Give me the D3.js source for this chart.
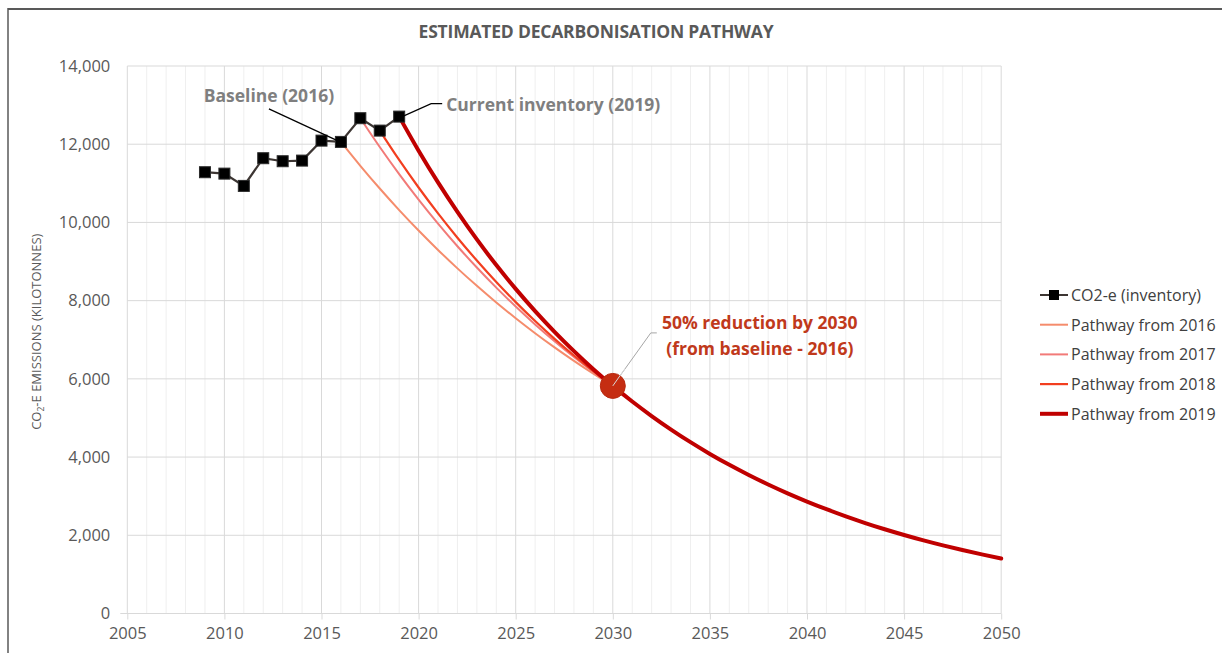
<!DOCTYPE html>
<html>
<head>
<meta charset="utf-8">
<script src="https://cdn.jsdelivr.net/npm/d3@7"></script>
<style>
  body { margin: 0; background: #fff; }
  svg { display: block; font-family: "Open Sans", "Noto Sans", sans-serif; }
</style>
</head>
<body>
<svg id="chart" width="1222" height="653"></svg>
<script>
// Emissions inventory (kilotonnes CO2-e)
const inventoryYears = [2009, 2010, 2011, 2012, 2013, 2014, 2015, 2016, 2017, 2018, 2019];
const inventoryValues = [11284, 11248, 10934, 11642, 11565, 11581, 12092, 12059, 12665, 12348, 12706];

// Projected pathways, one value per year from the start year onward
const pathway2016 = [12059, 11448, 10867, 10316, 9793, 9297, 8825, 8378, 7953, 7550, 7167, 6804, 6459, 6131, 5820];
const pathway2017 = [12665, 11930, 11237, 10585, 9970, 9391, 8846, 8332, 7849, 7393, 6964, 6559, 6179, 5820];
const pathway2018 = [12348, 11598, 10893, 10231, 9610, 9026, 8477, 7962, 7478, 7024, 6597, 6196, 5820];
const pathway2019 = [12706, 11835, 11024, 10269, 9565, 8910, 8300, 7731, 7201, 6708, 6248, 5820,
                     5421, 5050, 4704, 4381, 4081, 3801, 3541, 3298, 3072, 2862,
                     2666, 2483, 2313, 2154, 2007, 1869, 1741, 1622, 1511, 1407];
const pathwayStarts = [2016, 2017, 2018, 2019];
const pathwayNames = ["Pathway from 2016", "Pathway from 2017", "Pathway from 2018", "Pathway from 2019"];

// 2030 target (50% of the 2016 baseline)
const targetYear = 2030;
const targetValue = 5820;

const xTickValues = [2005, 2010, 2015, 2020, 2025, 2030, 2035, 2040, 2045, 2050];
const yTickValues = [0, 2000, 4000, 6000, 8000, 10000, 12000, 14000];

const svg = d3.select("#chart");
const W = 1222, H = 653;
const plot = { left: 127.3, right: 1001.2, top: 66, bottom: 613.5 };

const x = d3.scaleLinear().domain([2005, 2050]).range([plot.left, plot.right]);
const y = d3.scaleLinear().domain([0, 14000]).range([plot.bottom, plot.top]);

// Chart frame
svg.append("line").attr("x1", 8).attr("x2", W).attr("y1", 9).attr("y2", 9)
  .attr("stroke", "#595959").attr("stroke-width", 2);
svg.append("line").attr("x1", 8).attr("x2", 8).attr("y1", 8).attr("y2", H)
  .attr("stroke", "#595959").attr("stroke-width", 1.5);

// Title
svg.append("text").attr("x", 596).attr("y", 38).attr("text-anchor", "middle")
  .attr("font-size", 17.5).attr("font-weight", 700).attr("fill", "#595959")
  .attr("letter-spacing", -0.2)
  .text("ESTIMATED DECARBONISATION PATHWAY");

// Gridlines
const grid = svg.append("g");
grid.selectAll("line.minor").data(d3.range(2005, 2051).filter(d => d % 5 !== 0))
  .join("line").attr("class", "minor")
  .attr("x1", d => x(d)).attr("x2", d => x(d))
  .attr("y1", plot.top).attr("y2", plot.bottom)
  .attr("stroke", "#efefef").attr("stroke-width", 1);
grid.selectAll("line.majorx").data(xTickValues)
  .join("line").attr("class", "majorx")
  .attr("x1", d => x(d)).attr("x2", d => x(d))
  .attr("y1", plot.top).attr("y2", plot.bottom)
  .attr("stroke", "#d9d9d9").attr("stroke-width", 1);
grid.selectAll("line.majory").data(yTickValues.filter(d => d > 0))
  .join("line").attr("class", "majory")
  .attr("x1", plot.left).attr("x2", plot.right)
  .attr("y1", d => y(d)).attr("y2", d => y(d))
  .attr("stroke", "#d9d9d9").attr("stroke-width", 1);

// X axis
const xAxis = d3.axisBottom(x).tickValues(xTickValues).tickFormat(d3.format("d"))
  .tickSize(6).tickPadding(8).tickSizeOuter(0);
const gx = svg.append("g").attr("transform", `translate(0,${plot.bottom})`).call(xAxis);
gx.select(".domain").attr("stroke", "#d9d9d9").attr("d", `M${plot.left - 7},0H${plot.right}`);
gx.selectAll(".tick line").attr("stroke", "#d9d9d9");
gx.selectAll(".tick text").attr("font-size", 16.5).attr("fill", "#595959")
  .attr("font-family", "\"Open Sans\", sans-serif");

// Y axis
const yAxis = d3.axisLeft(y).tickValues(yTickValues).tickFormat(d3.format(",")).tickSize(0).tickPadding(17);
const gy = svg.append("g").attr("transform", `translate(${plot.left},0)`).call(yAxis);
gy.select(".domain").remove();
gy.selectAll(".tick text").attr("font-size", 16.5).attr("fill", "#595959")
  .attr("font-family", "\"Open Sans\", sans-serif");

// Y axis title
const yTitle = svg.append("text")
  .attr("transform", `translate(41,${(plot.top + plot.bottom) / 2 - 8}) rotate(-90)`)
  .attr("text-anchor", "middle").attr("font-size", 13).attr("fill", "#595959");
yTitle.append("tspan").text("CO");
yTitle.append("tspan").attr("font-size", 8.5).attr("dy", 3).text("2");
yTitle.append("tspan").attr("dy", -3).text("-E EMISSIONS (KILOTONNES)");

// Pathway lines
const pathwayData = [pathway2016, pathway2017, pathway2018, pathway2019];
const pathwayColors = ["#F58C6C", "#F27A78", "#F23E1F", "#C00000"];
const pathwayWidths = [2, 2, 2.2, 4];
const line = d3.line().x(d => x(d[0])).y(d => y(d[1])).curve(d3.curveMonotoneX);

pathwayData.forEach((vals, i) => {
  const pts = vals.map((v, k) => [pathwayStarts[i] + k, v]);
  svg.append("path").datum(pts)
    .attr("d", line).attr("fill", "none")
    .attr("stroke", pathwayColors[i]).attr("stroke-width", pathwayWidths[i])
    .attr("stroke-linecap", "round");
});

// Inventory line and markers
const invPts = inventoryYears.map((yr, i) => [yr, inventoryValues[i]]);
svg.append("path").datum(invPts)
  .attr("d", d3.line().x(d => x(d[0])).y(d => y(d[1])))
  .attr("fill", "none").attr("stroke", "#3d3633").attr("stroke-width", 2.2);
svg.selectAll("rect.inv").data(invPts).join("rect").attr("class", "inv")
  .attr("x", d => x(d[0]) - 5.5).attr("y", d => y(d[1]) - 5.5)
  .attr("width", 11).attr("height", 11)
  .attr("fill", "#000").attr("stroke", "#2b2b2b").attr("stroke-width", 1);

// Annotations: baseline and current inventory
const annoColor = "#7f7f7f";
const bx = x(2016), by = y(inventoryValues[7]);
svg.append("polyline")
  .attr("points", `${bx - 72},${by - 33} ${bx - 3},${by - 1}`)
  .attr("fill", "none").attr("stroke", "#000").attr("stroke-width", 1.2);
svg.append("text").attr("x", bx - 72).attr("y", by - 40).attr("text-anchor", "middle")
  .attr("font-size", 17.5).attr("font-weight", 700).attr("fill", annoColor)
  .text("Baseline (2016)");

const cx = x(2019), cy = y(inventoryValues[10]);
svg.append("polyline")
  .attr("points", `${cx + 43},${cy - 13} ${cx + 32},${cy - 13} ${cx + 3},${cy}`)
  .attr("fill", "none").attr("stroke", "#000").attr("stroke-width", 1.2);
svg.append("text").attr("x", cx + 47).attr("y", cy - 6)
  .attr("font-size", 17.5).attr("font-weight", 700).attr("fill", annoColor)
  .text("Current inventory (2019)");

// 2030 target marker
const tx = x(targetYear), ty = y(targetValue);
svg.append("polyline")
  .attr("points", `${tx},${ty} ${tx + 38},${ty - 53} ${tx + 44},${ty - 53}`)
  .attr("fill", "none").attr("stroke", "#a6a6a6").attr("stroke-width", 1);
svg.append("circle").attr("cx", tx).attr("cy", ty).attr("r", 12.5)
  .attr("fill", "#C52D12").attr("stroke", "#b82a10").attr("stroke-width", 1);
svg.append("polyline")
  .attr("points", `${tx},${ty} ${tx + 12},${ty - 17}`)
  .attr("fill", "none").attr("stroke", "#d9d9d9").attr("stroke-width", 1);
const target = svg.append("text").attr("text-anchor", "middle")
  .attr("font-size", 17.5).attr("font-weight", 700).attr("fill", "#C0391B");
target.append("tspan").attr("x", tx + 147).attr("y", ty - 57).text("50% reduction by 2030");
target.append("tspan").attr("x", tx + 147).attr("y", ty - 31).text("(from baseline - 2016)");

// Legend
const legendItems = ["CO2-e (inventory)"].concat(pathwayNames);
const legend = svg.append("g").attr("transform", "translate(1040,295)");
legendItems.forEach((name, i) => {
  const g = legend.append("g").attr("transform", `translate(0,${i * 29.7})`);
  if (i === 0) {
    g.append("line").attr("x1", 0).attr("x2", 28).attr("y1", 0).attr("y2", 0)
      .attr("stroke", "#3d3633").attr("stroke-width", 2);
    g.append("rect").attr("x", 9).attr("y", -5).attr("width", 10).attr("height", 10).attr("fill", "#000");
  } else {
    g.append("line").attr("x1", 0).attr("x2", 28).attr("y1", 0).attr("y2", 0)
      .attr("stroke", pathwayColors[i - 1]).attr("stroke-width", pathwayWidths[i - 1]);
  }
  g.append("text").attr("x", 31).attr("y", 5.8).attr("font-size", 16).attr("fill", "#404040")
    .text(name);
});
</script>
</body>
</html>
